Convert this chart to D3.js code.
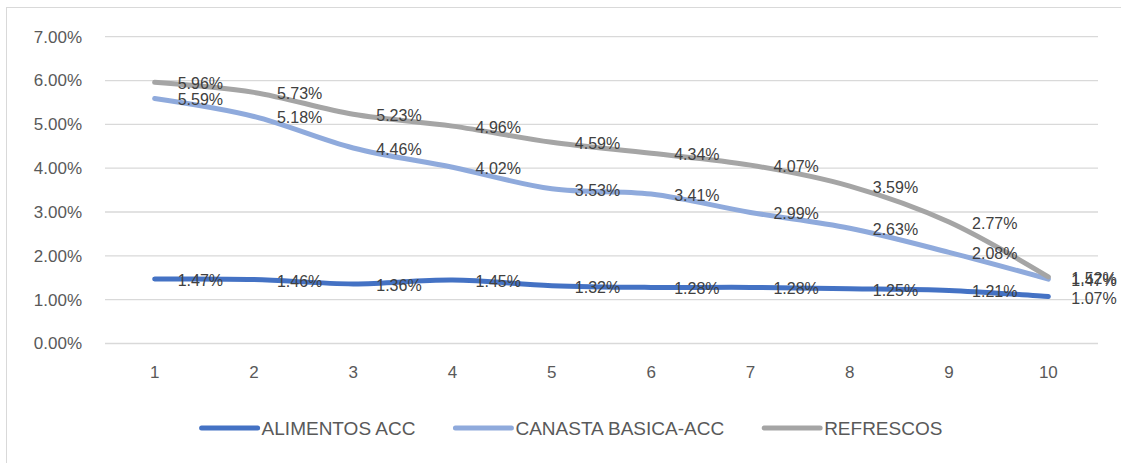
<!DOCTYPE html>
<html>
<head>
<meta charset="utf-8">
<script src="https://cdn.jsdelivr.net/npm/d3@7"></script>
<style>
  html, body { margin: 0; padding: 0; background: #ffffff; }
  svg { display: block; font-family: "Liberation Sans", Arial, sans-serif; }
</style>
</head>
<body>
<svg id="chart" width="1121" height="463"></svg>
<script>
// Categories on the x axis
const categories = ["1", "2", "3", "4", "5", "6", "7", "8", "9", "10"];

// Series values (percent)
const alimentosAcc = [1.47, 1.46, 1.36, 1.45, 1.32, 1.28, 1.28, 1.25, 1.21, 1.07];
const canastaBasicaAcc = [5.59, 5.18, 4.46, 4.02, 3.53, 3.41, 2.99, 2.63, 2.08, 1.47];
const refrescos = [5.96, 5.73, 5.23, 4.96, 4.59, 4.34, 4.07, 3.59, 2.77, 1.52];

const seriesNames = ["ALIMENTOS ACC", "CANASTA BASICA-ACC", "REFRESCOS"];
const seriesColors = ["#4472C4", "#8FAADC", "#A5A5A5"];

// Y axis ticks
const yTicks = [0, 1, 2, 3, 4, 5, 6, 7];

const series = [
  { name: seriesNames[0], values: alimentosAcc, color: seriesColors[0] },
  { name: seriesNames[1], values: canastaBasicaAcc, color: seriesColors[1] },
  { name: seriesNames[2], values: refrescos, color: seriesColors[2] }
];

const svg = d3.select("#chart");
const W = 1121, H = 463;

// Chart frame
svg.append("rect")
  .attr("x", 6.5).attr("y", 7.5)
  .attr("width", W + 20).attr("height", H + 20)
  .attr("fill", "#fff").attr("stroke", "#d9d9d9").attr("stroke-width", 1);

const plot = { left: 105, right: 1098, top: 36.7, bottom: 343.5 };

const x = d3.scaleBand().domain(categories).range([plot.left, plot.right]);
const y = d3.scaleLinear().domain([0, 7]).range([plot.bottom, plot.top]);
const cx = c => x(c) + x.bandwidth() / 2;

const fmt = v => v.toFixed(2) + "%";

// Gridlines
svg.append("g").selectAll("line").data(yTicks).join("line")
  .attr("x1", plot.left).attr("x2", plot.right)
  .attr("y1", d => y(d)).attr("y2", d => y(d))
  .attr("stroke", "#d9d9d9").attr("stroke-width", 1.3);

// Y axis labels
const yAxis = d3.axisLeft(y).tickValues(yTicks).tickFormat(fmt).tickSize(0).tickPadding(0);
const gy = svg.append("g").attr("transform", "translate(82,0)").call(yAxis);
gy.select(".domain").remove();
gy.selectAll("text")
  .attr("fill", "#595959").attr("font-size", "17px")
  .attr("font-family", "Liberation Sans, Arial, sans-serif");

// X axis labels
const xAxis = d3.axisBottom(x).tickSize(0).tickPadding(0);
const gx = svg.append("g").attr("transform", "translate(0,366)").call(xAxis);
gx.select(".domain").remove();
gx.selectAll("text")
  .attr("fill", "#595959").attr("font-size", "17px")
  .attr("font-family", "Liberation Sans, Arial, sans-serif");

// Smoothed lines
const line = d3.line()
  .x((d, i) => cx(categories[i]))
  .y(d => y(d))
  .curve(d3.curveCardinal.tension(0));

svg.append("g").selectAll("path").data(series).join("path")
  .attr("d", s => line(s.values))
  .attr("fill", "none")
  .attr("stroke", s => s.color)
  .attr("stroke-width", 5)
  .attr("stroke-linecap", "round")
  .attr("stroke-linejoin", "round");

// Data labels (right of each point)
series.forEach(s => {
  svg.append("g").selectAll("text").data(s.values).join("text")
    .attr("x", (d, i) => cx(categories[i]) + 23)
    .attr("y", d => y(d) + 1.5)
    .attr("dominant-baseline", "central")
    .attr("fill", "#404040")
    .attr("font-size", "16px")
    .text(d => fmt(d));
});

// Legend
const legend = svg.append("g");
const items = legend.selectAll("g").data(series).join("g");
items.append("line")
  .attr("x1", 0).attr("x2", 56).attr("y1", 0).attr("y2", 0)
  .attr("stroke", s => s.color).attr("stroke-width", 5).attr("stroke-linecap", "round");
items.append("text")
  .attr("x", 60).attr("y", 0)
  .attr("dominant-baseline", "central")
  .attr("fill", "#595959").attr("font-size", "19px")
  .text(s => s.name);

let offset = 0;
const widths = [];
items.each(function () {
  const tw = d3.select(this).select("text").node().getComputedTextLength();
  widths.push(60 + tw);
});
const total = d3.sum(widths) + 40 * (widths.length - 1);
const startX = 572 - total / 2;
items.attr("transform", (d, i) => {
  const xPos = startX + offset;
  offset += widths[i] + 40;
  return `translate(${xPos},428)`;
});
</script>
</body>
</html>
